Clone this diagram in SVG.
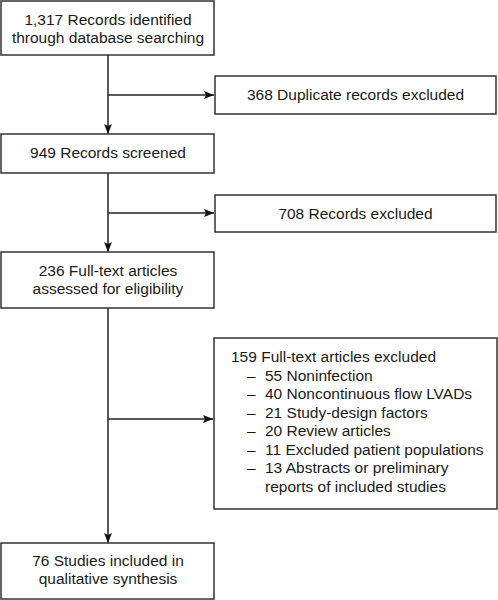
<svg xmlns="http://www.w3.org/2000/svg" width="498" height="600" viewBox="0 0 498 600">
<style>
.box{fill:#fff;stroke:#333;stroke-width:1.5}
.t{font-family:"Liberation Sans",Arial,sans-serif;font-size:15.5px;fill:#1a1a1a}
.c{text-anchor:middle}
.ln{fill:none;stroke:#222;stroke-width:1.5}
</style>
<defs>
<marker id="ah" viewBox="0 0 10 8" refX="10" refY="4" markerWidth="10" markerHeight="8" markerUnits="userSpaceOnUse" orient="auto">
<path d="M0,0 L10,4 L0,8 L2,4 z" fill="#111"/>
</marker>
</defs>
<rect width="498" height="600" fill="#fff"/>
<g id="connectors">
<line class="ln" x1="108" y1="55" x2="108" y2="134" marker-end="url(#ah)"/>
<line class="ln" x1="108" y1="95" x2="214" y2="95" marker-end="url(#ah)"/>
<line class="ln" x1="108" y1="173" x2="108" y2="252" marker-end="url(#ah)"/>
<line class="ln" x1="108" y1="213" x2="214" y2="213" marker-end="url(#ah)"/>
<line class="ln" x1="108" y1="308" x2="108" y2="543" marker-end="url(#ah)"/>
<line class="ln" x1="108" y1="419" x2="213" y2="419" marker-end="url(#ah)"/>
</g>
<g id="n1">
<rect class="box" x="1" y="1" width="213" height="54"/>
<text class="t c" x="108" y="24.5">1,317 Records identified</text>
<text class="t c" x="108" y="42.5">through database searching</text>
</g>
<g id="n2">
<rect class="box" x="215" y="76" width="281" height="38"/>
<text class="t c" x="355.5" y="99.5">368 Duplicate records excluded</text>
</g>
<g id="n3">
<rect class="box" x="1" y="134" width="213" height="39"/>
<text class="t c" x="108" y="158">949 Records screened</text>
</g>
<g id="n4">
<rect class="box" x="215" y="195" width="281" height="37"/>
<text class="t c" x="355.5" y="218.5">708 Records excluded</text>
</g>
<g id="n5">
<rect class="box" x="1" y="252" width="213" height="56"/>
<text class="t c" x="108" y="275.5">236 Full-text articles</text>
<text class="t c" x="108" y="293.5">assessed for eligibility</text>
</g>
<g id="n6">
<rect class="box" x="214" y="338" width="283" height="171"/>
<text class="t" x="231" y="362">159 Full-text articles excluded</text>
<text class="t" x="247" y="380.5">–</text><text class="t" x="265" y="380.5">55 Noninfection</text>
<text class="t" x="247" y="399">–</text><text class="t" x="265" y="399">40 Noncontinuous flow LVADs</text>
<text class="t" x="247" y="417.5">–</text><text class="t" x="265" y="417.5">21 Study-design factors</text>
<text class="t" x="247" y="436">–</text><text class="t" x="265" y="436">20 Review articles</text>
<text class="t" x="247" y="454.5">–</text><text class="t" x="265" y="454.5">11 Excluded patient populations</text>
<text class="t" x="247" y="473">–</text><text class="t" x="265" y="473">13 Abstracts or preliminary</text>
<text class="t" x="265" y="491.5">reports of included studies</text>
</g>
<g id="n7">
<rect class="box" x="1" y="543" width="213" height="56"/>
<text class="t c" x="108" y="566">76 Studies included in</text>
<text class="t c" x="108" y="584">qualitative synthesis</text>
</g>
</svg>
